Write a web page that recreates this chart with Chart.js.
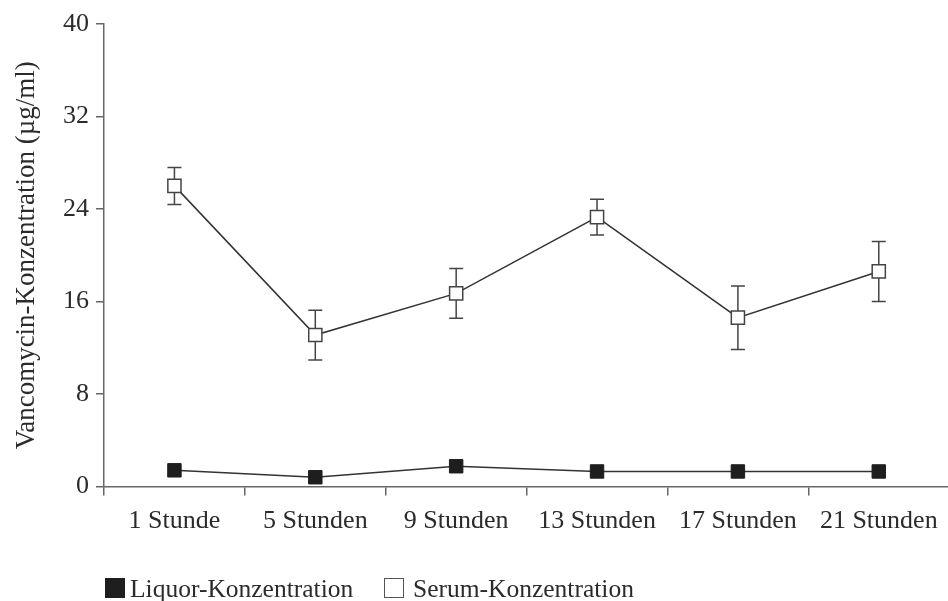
<!DOCTYPE html>
<html>
<head>
<meta charset="utf-8">
<script src="https://cdn.jsdelivr.net/npm/chart.js@4/dist/chart.umd.min.js"></script>
<style>
  html, body { margin: 0; padding: 0; background: #fff; overflow: hidden; }
  #wrap { position: relative; width: 948px; height: 601px; overflow: hidden; }
  #chart { position: absolute; left: 0; top: 0; }
  .lg-text { position: absolute; top: 576px; font-family: "Liberation Serif", serif; font-size: 25.5px; line-height: 25px; color: #2b2b2b; white-space: nowrap; }
  .lg-box { position: absolute; top: 578px; width: 20px; height: 20px; box-sizing: border-box; }
</style>
</head>
<body>
<div id="wrap">
  <canvas id="chart" width="960" height="601"></canvas>
  <div class="lg-box" style="left:105px;background:#1e1e1e;"></div>
  <div class="lg-text" style="left:130px;">Liquor-Konzentration</div>
  <div class="lg-box" style="left:384px;background:#fff;border:1.5px solid #555;"></div>
  <div class="lg-text" style="left:413px;">Serum-Konzentration</div>
</div>
<script>
  const categories = ['1 Stunde', '5 Stunden', '9 Stunden', '13 Stunden', '17 Stunden', '21 Stunden'];
  const liquor = [1.4, 0.8, 1.75, 1.3, 1.3, 1.3];
  const serum = [26.0, 13.1, 16.7, 23.3, 14.6, 18.6];
  const serumErr = [1.6, 2.15, 2.15, 1.55, 2.75, 2.6];
  const yTicks = [0, 8, 16, 24, 32, 40];

  const serif = 'Liberation Serif';

  // error bars for the serum series, drawn under the lines and squares
  const errorBars = {
    id: 'errorBars',
    beforeDatasetsDraw(chart) {
      const { ctx, scales: { x, y } } = chart;
      ctx.save();
      ctx.strokeStyle = '#444';
      ctx.lineWidth = 1.5;
      serum.forEach((v, i) => {
        const px = x.getPixelForValue(i);
        const top = y.getPixelForValue(v + serumErr[i]);
        const bot = y.getPixelForValue(v - serumErr[i]);
        ctx.beginPath();
        ctx.moveTo(px, top); ctx.lineTo(px, bot);
        ctx.moveTo(px - 7, top); ctx.lineTo(px + 7, top);
        ctx.moveTo(px - 7, bot); ctx.lineTo(px + 7, bot);
        ctx.stroke();
      });
      ctx.restore();
    }
  };

  new Chart(document.getElementById('chart'), {
    type: 'line',
    data: {
      labels: categories,
      datasets: [{
        label: 'Liquor-Konzentration',
        data: liquor,
        borderColor: '#333',
        borderWidth: 1.5,
        pointStyle: 'rect',
        pointRadius: 9.5,
        pointBackgroundColor: '#1e1e1e',
        pointBorderColor: '#1e1e1e',
        pointBorderWidth: 1,
        tension: 0
      }, {
        label: 'Serum-Konzentration',
        data: serum,
        borderColor: '#333',
        borderWidth: 1.5,
        pointStyle: 'rect',
        pointRadius: 9.3,
        pointBackgroundColor: '#fff',
        pointBorderColor: '#444',
        pointBorderWidth: 1.5,
        tension: 0
      }]
    },
    options: {
      responsive: false,
      animation: false,
      layout: { padding: { top: 24, right: 6, left: 0, bottom: 0 } },
      plugins: { legend: { display: false }, tooltip: { enabled: false } },
      scales: {
        x: {
          offset: true,
          grid: { offset: true, drawOnChartArea: false, tickLength: 9, color: '#666', lineWidth: 1.5 },
          border: { color: '#666', width: 1.5 },
          ticks: { color: '#2b2b2b', font: { family: serif, size: 26 }, padding: 10, maxRotation: 0, autoSkip: false },
          afterFit: s => { s.height = 114.5; }
        },
        y: {
          min: 0,
          max: 40,
          afterBuildTicks: s => { s.ticks = yTicks.map(v => ({ value: v })); },
          grid: { drawOnChartArea: false, tickLength: 8, color: '#666', lineWidth: 1.5 },
          border: { color: '#666', width: 1.5 },
          ticks: { color: '#2b2b2b', font: { family: serif, size: 26 }, padding: 7 },
          title: {
            display: true,
            text: 'Vancomycin-Konzentration (µg/ml)',
            color: '#2b2b2b',
            font: { family: serif, size: 27 },
            padding: { top: 11, bottom: 0 }
          },
          afterFit: s => { s.width = 104; }
        }
      }
    },
    plugins: [errorBars]
  });
</script>
</body>
</html>
